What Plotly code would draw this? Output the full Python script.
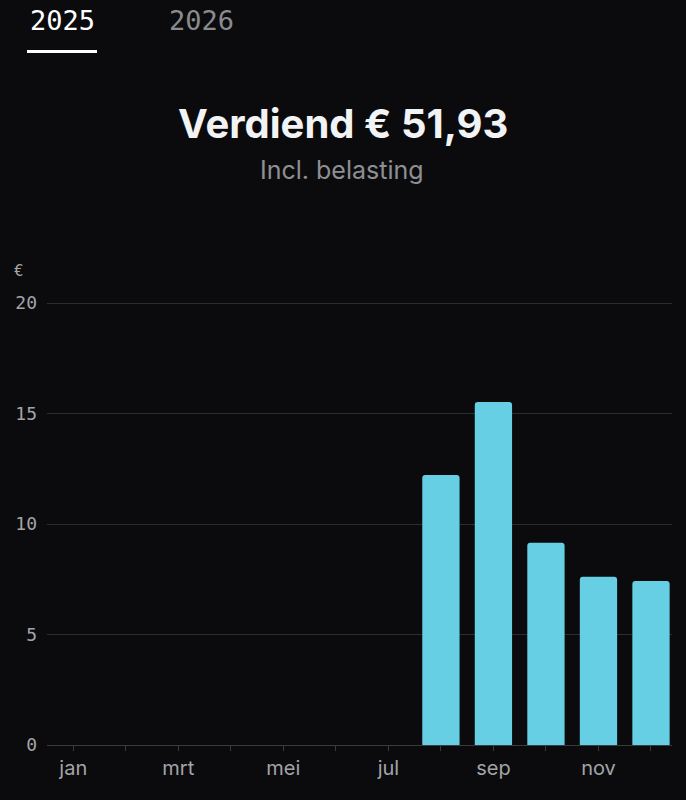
import plotly.graph_objects as go

months = ["jan", "feb", "mrt", "apr", "mei", "jun", "jul", "aug", "sep", "okt", "nov", "dec"]
month_labels = ["jan", "", "mrt", "", "mei", "", "jul", "", "sep", "", "nov", ""]
earnings = [0, 0, 0, 0, 0, 0, 0, 12.22, 15.52, 9.15, 7.62, 7.42]
y_ticks = [0, 5, 10, 15, 20]
tabs = ["2025", "2026"]
title_text = "Verdiend € 51,93"
subtitle_text = "Incl. belasting"

BG = "#0b0b0d"
BAR = "#66cfe4"
GRID = "#2c2d31"
LABEL = "#a3a4a8"

W, H = 686, 800
L, R, T, B = 47, 14, 303, 55
pw, ph = W - L - R, H - T - B
def px(x):
    return (x - L) / pw
def py(y):
    return (H - B - y) / ph

fig = go.Figure()
fig.add_trace(go.Bar(
    x=list(range(len(months))), y=earnings,
    marker=dict(color=BAR, line=dict(width=0)),
    width=0.71,
    hoverinfo="skip",
))

fig.update_layout(
    width=W, height=H,
    paper_bgcolor=BG, plot_bgcolor=BG,
    margin=dict(l=L, r=R, t=T - 1, b=B),
    showlegend=False,
    barcornerradius=3,
    font=dict(family="Inter, Noto Sans, sans-serif", color=LABEL),
)
fig.update_xaxes(
    range=[-0.5, 11.4],
    tickmode="array", tickvals=list(range(len(months))), ticktext=month_labels,
    ticks="outside", ticklen=5, tickcolor="#3a3b40", tickwidth=1,
    showgrid=False, zeroline=False,
    showline=True, linecolor="#3a3b40", linewidth=1,
    tickfont=dict(family="Inter, sans-serif", size=20, color=LABEL),
)
fig.update_yaxes(
    range=[0, 20.05],
    tickmode="array", tickvals=y_ticks, ticktext=[str(v) for v in y_ticks],
    showgrid=True, gridcolor=GRID, gridwidth=1,
    zeroline=False, showline=False, ticks="",
    ticklabelstandoff=9,
    tickfont=dict(family="DejaVu Sans Mono, monospace", size=18, color=LABEL),
)

fig.add_annotation(text="€", xref="paper", yref="paper", x=px(19), y=py(272),
                   xanchor="center", yanchor="middle", showarrow=False,
                   font=dict(family="DejaVu Sans Mono, monospace", size=16, color=LABEL))

fig.add_annotation(text="<b>" + title_text + "</b>", xref="paper", yref="paper",
                   x=px(343), y=py(125), showarrow=False,
                   xanchor="center", yanchor="middle",
                   font=dict(family="Inter, sans-serif", size=40, color="#f2f3f5"))
fig.add_annotation(text=subtitle_text, xref="paper", yref="paper",
                   x=px(342), y=py(171), showarrow=False, xanchor="center", yanchor="middle",
                   font=dict(family="Inter, sans-serif", size=25, color="#8e8f93"))

fig.add_annotation(text=tabs[0], xref="paper", yref="paper", x=px(62), y=py(22),
                   showarrow=False, xanchor="center", yanchor="middle",
                   font=dict(family="DejaVu Sans Mono, monospace", size=27, color="#ffffff"))
fig.add_annotation(text=tabs[1], xref="paper", yref="paper", x=px(201), y=py(22),
                   showarrow=False, xanchor="center", yanchor="middle",
                   font=dict(family="DejaVu Sans Mono, monospace", size=27, color="#8a8b8f"))

fig.add_shape(type="line", xref="paper", yref="paper",
              x0=px(27), x1=px(97), y0=py(53), y1=py(53),
              line=dict(color="#ffffff", width=3))

fig.write_html("out.html", config={"displayModeBar": False}, post_script=(
    "document.body.style.margin='0';"
    "document.body.style.background='#0b0b0d';"
    "document.documentElement.style.background='#0b0b0d';"
))
